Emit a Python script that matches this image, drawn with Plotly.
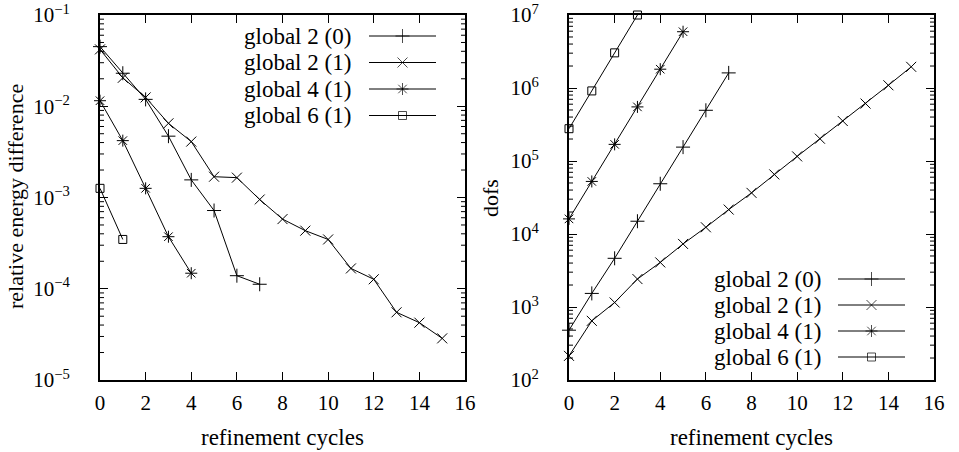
import plotly.graph_objects as go

W, H = 959, 452
FONT = "Liberation Serif"
FS = 21     # tick labels
FT = 23     # x titles and keys
FY = 22     # y titles

series_names = ["global 2 (0)", "global 2 (1)", "global 4 (1)", "global 6 (1)"]
series_symbols = ["cross-thin-open", "x-thin-open", "asterisk-open", "square-open"]
series_sizes = [10, 10, 10, 8]

# relative energy difference vs refinement cycle
err_g2_0 = [0.045, 0.023, 0.0119, 0.0047, 0.00156, 0.00072, 0.000139, 0.000112]
err_g2_1 = [0.042, 0.0205, 0.0125, 0.0065, 0.0041, 0.00169, 0.00165, 0.00095,
            0.00058, 0.000433, 0.000347, 0.000167, 0.000127, 0.0000552,
            0.0000425, 0.0000286]
err_g4_1 = [0.0115, 0.0042, 0.00126, 0.000372, 0.000148]
err_g6_1 = [0.00126, 0.000347]

# dofs vs refinement cycle
dofs_g2_0 = [481, 1535, 4645, 14960, 48800, 155000, 495000, 1610000]
dofs_g2_1 = [214, 646, 1153, 2415, 4080, 7310, 12360, 21600, 36600, 65500,
             115600, 202000, 353000, 612000, 1090000, 1950000]
dofs_g4_1 = [16100, 52500, 169000, 551000, 1810000, 5900000]
dofs_g6_1 = [277000, 912000, 3030000, 10000000]

x_ticks = [0, 2, 4, 6, 8, 10, 12, 14, 16]
left_exps = [-5, -4, -3, -2, -1]
right_exps = [2, 3, 4, 5, 6, 7]

err_series = [err_g2_0, err_g2_1, err_g4_1, err_g6_1]
dofs_series = [dofs_g2_0, dofs_g2_1, dofs_g4_1, dofs_g6_1]

X_RANGE = [0, 16]
PLOT_W = 365.0
MINOR_LEN = 4.0

fig = go.Figure()

def minor_vals(exps):
    return [k * 10.0 ** e for e in exps[:-1] for k in range(2, 10)]

# minor log ticks, inside on both sides, drawn as a line trace on each panel
def add_minor_ticks(exps, xa, ya):
    dx = (X_RANGE[1] - X_RANGE[0]) * MINOR_LEN / PLOT_W
    xs, ys = [], []
    for v in minor_vals(exps):
        xs += [X_RANGE[0], X_RANGE[0] + dx, None, X_RANGE[1] - dx, X_RANGE[1], None]
        ys += [v, v, None, v, v, None]
    fig.add_trace(go.Scatter(x=xs, y=ys, mode="lines", connectgaps=False,
                             line=dict(color="black", width=1),
                             xaxis=xa, yaxis=ya, showlegend=False, hoverinfo="skip"))

add_minor_ticks(left_exps, "x", "y")
add_minor_ticks(right_exps, "x2", "y2")

for vals, sym, sz in zip(err_series, series_symbols, series_sizes):
    fig.add_trace(go.Scatter(
        x=list(range(len(vals))), y=vals, mode="lines+markers",
        line=dict(color="black", width=1),
        marker=dict(symbol=sym, size=sz, color="black",
                    line=dict(color="black", width=1)),
        xaxis="x", yaxis="y", showlegend=False, cliponaxis=False))

for vals, sym, sz in zip(dofs_series, series_symbols, series_sizes):
    fig.add_trace(go.Scatter(
        x=list(range(len(vals))), y=vals, mode="lines+markers",
        line=dict(color="black", width=1),
        marker=dict(symbol=sym, size=sz, color="black",
                    line=dict(color="black", width=1)),
        xaxis="x2", yaxis="y2", showlegend=False, cliponaxis=False))

# custom gnuplot-style keys (text, then sample line with marker)
def add_key(text_right, line_x0, line_x1, row_ys):
    for name, sym, sz, yy in zip(series_names, series_symbols, series_sizes, row_ys):
        fig.add_annotation(x=text_right / W, y=1 - yy / H, xref="paper", yref="paper",
                           text=name, showarrow=False, xanchor="right", yanchor="middle",
                           font=dict(family=FONT, size=FT, color="black"))
        fig.add_trace(go.Scatter(
            x=[line_x0, (line_x0 + line_x1) / 2, line_x1], y=[yy, yy, yy],
            mode="lines+markers", line=dict(color="black", width=1),
            marker=dict(symbol=sym, size=[0, sz, 0], color="black",
                        line=dict(color="black", width=1)),
            xaxis="x3", yaxis="y3", showlegend=False, hoverinfo="skip"))

add_key(353, 369, 436, [36, 62.5, 89, 115.5])
add_key(823, 838, 905, [279, 305, 331, 357])

def sup(e):
    return "10<sup>" + (str(e) if e >= 0 else "\u2212" + str(-e)) + "</sup>\u2009"

common_x = dict(range=X_RANGE, tickvals=x_ticks, ticktext=[str(v) for v in x_ticks],
                ticks="inside", ticklen=8, tickwidth=1, tickcolor="black",
                showline=True, linecolor="black", linewidth=1.5, mirror="ticks",
                showgrid=False, zeroline=False, automargin=False,
                ticklabelstandoff=3,
                tickfont=dict(family=FONT, size=FS, color="black"))
common_y = dict(type="log", ticks="inside", ticklen=8, tickwidth=1, tickcolor="black",
                showline=True, linecolor="black", linewidth=1.5, mirror="ticks",
                showgrid=False, zeroline=False, automargin=False,
                ticklabelstandoff=20,
                tickfont=dict(family=FONT, size=FS, color="black"))

yd = [72 / H, 437 / H]
fig.update_layout(
    width=W, height=H, margin=dict(l=0, r=0, t=0, b=0),
    paper_bgcolor="white", plot_bgcolor="rgba(0,0,0,0)",
    xaxis=dict(domain=[100 / W, 465 / W], anchor="y", **common_x),
    yaxis=dict(domain=yd, anchor="x", range=[-5, -1],
               tickvals=[10.0 ** e for e in left_exps],
               ticktext=[sup(e) for e in left_exps], **common_y),
    xaxis2=dict(domain=[569 / W, 934 / W], anchor="y2", **common_x),
    yaxis2=dict(domain=yd, anchor="x2", range=[2, 7],
                tickvals=[10.0 ** e for e in right_exps],
                ticktext=[sup(e) for e in right_exps], **common_y),
    xaxis3=dict(domain=[0, 1], range=[0, W], visible=False, fixedrange=True,
                anchor="y3"),
    yaxis3=dict(domain=[0, 1], range=[H, 0], visible=False, fixedrange=True,
                anchor="x3"),
    showlegend=False,
)

# axis titles
for xc in (282, 751):
    fig.add_annotation(x=xc / W, y=1 - 437 / H, xref="paper", yref="paper",
                       text="refinement cycles", showarrow=False,
                       xanchor="center", yanchor="middle",
                       font=dict(family=FONT, size=FT, color="black"))
fig.add_annotation(x=15 / W, y=1 - 197 / H, xref="paper", yref="paper",
                   text="relative energy difference", showarrow=False, textangle=-90,
                   xanchor="center", yanchor="middle",
                   font=dict(family=FONT, size=FY, color="black"))
fig.add_annotation(x=490 / W, y=1 - 198 / H, xref="paper", yref="paper",
                   text="dofs", showarrow=False, textangle=-90,
                   xanchor="center", yanchor="middle",
                   font=dict(family=FONT, size=FY, color="black"))

fig.write_html("out.html")
